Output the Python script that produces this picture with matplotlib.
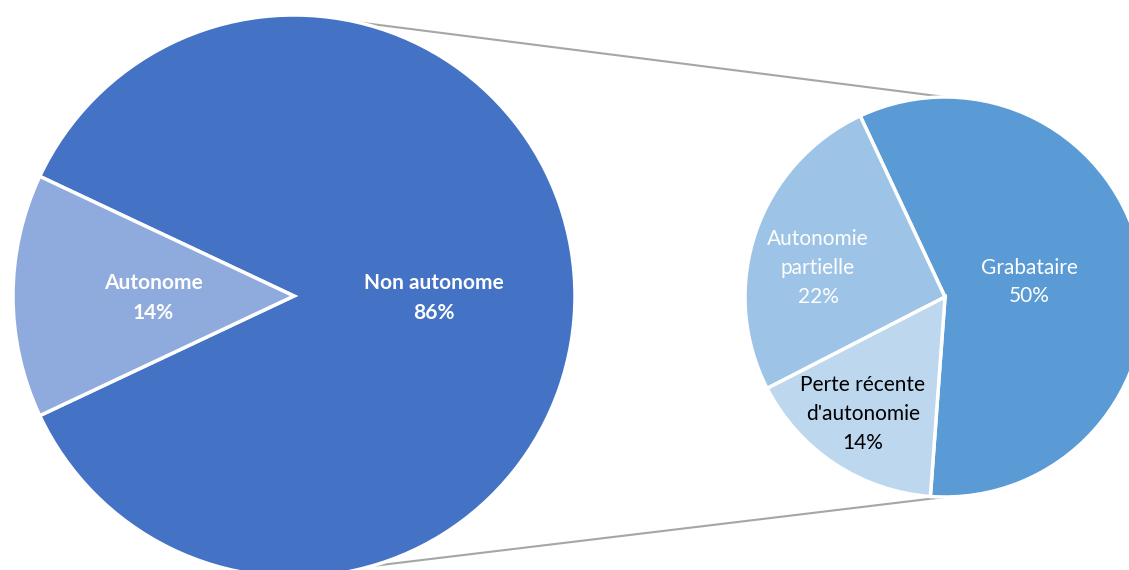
import matplotlib
matplotlib.use("Agg")
import matplotlib.pyplot as plt
import numpy as np

# Data
main_labels = ["Non autonome", "Autonome"]
main_values = [86, 14]
main_colors = ["#4472C4", "#8FAADC"]

sub_labels = ["Grabataire", "Autonomie\npartielle", "Perte récente\nd'autonomie"]
sub_values = [50, 22, 14]
sub_colors = ["#5B9BD5", "#9DC3E6", "#BDD7EE"]
sub_text_colors = ["white", "white", "black"]

W, H = 1129, 570
fig = plt.figure(figsize=(W / 100, H / 100), dpi=100)
ax = fig.add_axes([0, 0, 1, 1])

# geometry (pixel-like data units, y up)
c1, r1 = (294, 274), 281
c2, r2 = (945, 273), 200

# main pie: Autonome centred on the left (180 deg)
auto_frac = main_values[1] / sum(main_values)
start1 = 180 + auto_frac * 360 / 2
wedges1, _ = ax.pie(main_values, colors=main_colors, center=c1, radius=r1,
                    startangle=start1, counterclock=True,
                    wedgeprops=dict(edgecolor="white", linewidth=2.5), frame=True)

# second pie
wedges2, _ = ax.pie(sub_values, colors=sub_colors, center=c2, radius=r2,
                    startangle=-94.2, counterclock=True,
                    wedgeprops=dict(edgecolor="white", linewidth=2.5), frame=True)

# labels
fam = ["Lato", "DejaVu Sans"]
main_pos = [(434, 272), (153, 272)]
for lab, val, (x, y) in zip(main_labels, main_values, main_pos):
    ax.text(x, y, f"{lab}\n{val}%", ha="center", va="center", color="white",
            fontsize=15, fontweight="bold", family=fam, linespacing=1.6)

sub_pos = [(1029, 288), (818, 302), (863, 156)]
for lab, val, col, (x, y) in zip(sub_labels, sub_values, sub_text_colors, sub_pos):
    ax.text(x, y, f"{lab}\n{val}%", ha="center", va="center", color=col,
            fontsize=15, family=fam, linespacing=1.55)

# connector lines
for a1, a2 in [(77, 90), (-74, -90)]:
    p1 = (c1[0] + r1 * np.cos(np.radians(a1)), c1[1] + r1 * np.sin(np.radians(a1)))
    p2 = (c2[0] + r2 * np.cos(np.radians(a2)), c2[1] + r2 * np.sin(np.radians(a2)))
    ax.plot([p1[0], p2[0]], [p1[1], p2[1]], color="#A6A6A6", lw=1.5,
            solid_capstyle="butt", zorder=0)

ax.set_xlim(0, W)
ax.set_ylim(0, H)
ax.set_aspect("equal")
ax.axis("off")

fig.savefig("out.png", dpi=100, facecolor="white")
